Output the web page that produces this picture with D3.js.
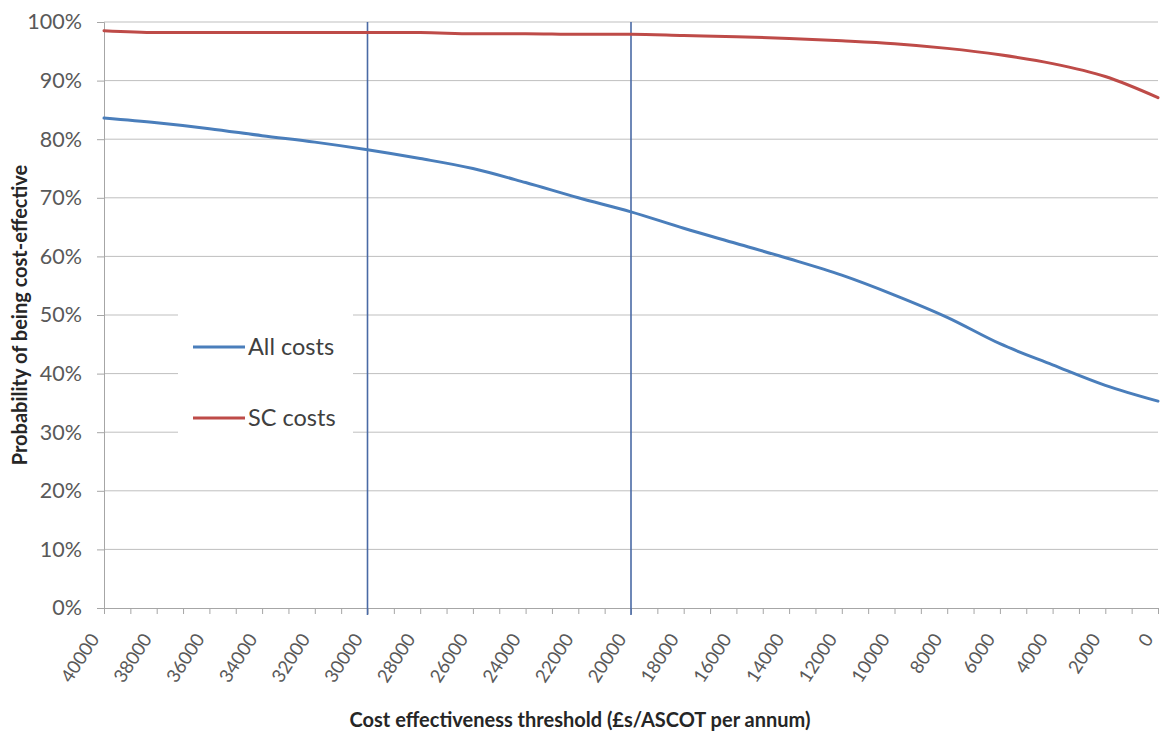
<!DOCTYPE html>
<html><head><meta charset="utf-8">
<script src="https://cdn.jsdelivr.net/npm/d3@7"></script>
<style>
body{margin:0;background:#fff;}
svg{display:block;}
</style></head>
<body>
<svg id="chart" width="1162" height="735"></svg>
<script>
// Thresholds (£s/ASCOT per annum), read every 2000
const thresholds = [40000,38000,36000,34000,32000,30000,28000,26000,24000,22000,20000,18000,16000,14000,12000,10000,8000,6000,4000,2000,0];
const allCosts = [83.6,82.8,81.8,80.6,79.5,78.2,76.7,75.0,72.6,70.0,67.6,64.8,62.2,59.6,56.8,53.4,49.6,45.1,41.5,38.0,35.3];
const scCosts  = [98.5,98.2,98.2,98.2,98.2,98.2,98.2,98.0,98.0,97.9,97.9,97.7,97.5,97.2,96.8,96.3,95.5,94.4,92.9,90.7,87.1];
const minorTicks = d3.range(40000, -1, -1000);
const tickLabels = ["40000","38000","36000","34000","32000","30000","28000","26000","24000","22000","20000","18000","16000","14000","12000","10000","8000","6000","4000","2000","0"];
const yTicks = [0,10,20,30,40,50,60,70,80,90,100];
const refLines = [30000, 20000];
const seriesNames = ["All costs","SC costs"];
const seriesColors = ["#4a7ebb","#be4b48"];

const svg = d3.select("#chart");
const mLeft = 104, mRight = 1158, mTop = 22, mBottom = 608;
const x = d3.scaleLinear().domain([40000,0]).range([mLeft,mRight]);
const y = d3.scaleLinear().domain([0,100]).range([mBottom,mTop]);
const font = "Lato, 'Open Sans', sans-serif";

// gridlines
svg.append("g").selectAll("line").data(yTicks.filter(d=>d>0)).join("line")
  .attr("x1",mLeft).attr("x2",mRight).attr("y1",d=>y(d)).attr("y2",d=>y(d))
  .attr("stroke","#bfbfbf").attr("stroke-width",1);

// y axis
const yAxis = d3.axisLeft(y).tickValues(yTicks).tickFormat(d=>d+"%").tickSize(7).tickPadding(15);
const gy = svg.append("g").attr("transform",`translate(${mLeft},0)`).call(yAxis);
gy.select(".domain").attr("stroke","#a6a6a6");
gy.selectAll(".tick line").attr("stroke","#a6a6a6");
gy.selectAll(".tick text").attr("font-family",font).attr("font-size",21.5).attr("fill","#595959");

// x axis
const xAxis = d3.axisBottom(x).tickValues(minorTicks).tickFormat("").tickSize(6).tickSizeOuter(0);
const gx = svg.append("g").attr("transform",`translate(0,${mBottom})`).call(xAxis);
gx.select(".domain").attr("stroke","#a6a6a6");
gx.selectAll(".tick line").attr("stroke","#a6a6a6");
svg.append("g").selectAll("text").data(tickLabels).join("text")
  .attr("transform",d=>`translate(${x(+d)-4},${mBottom+31}) rotate(-57)`)
  .attr("text-anchor","end").attr("font-family",font).attr("font-size",18.5).attr("fill","#595959")
  .text(d=>d);

// reference vertical lines
svg.append("g").selectAll("line").data(refLines).join("line")
  .attr("x1",d=>x(d)).attr("x2",d=>x(d)).attr("y1",y(100)).attr("y2",mBottom+7)
  .attr("stroke","#4a6aa5").attr("stroke-width",1.6);

// series lines
const line = d3.line().x((d,i)=>x(thresholds[i])).y(d=>y(d)).curve(d3.curveMonotoneX);
[allCosts, scCosts].forEach((s,i)=>{
  svg.append("path").datum(s).attr("d",line).attr("fill","none")
    .attr("stroke",seriesColors[i]).attr("stroke-width",3).attr("stroke-linecap","round");
});

// legend
const lg = svg.append("g");
lg.append("rect").attr("x",178).attr("y",300).attr("width",175).attr("height",145).attr("fill","#fff");
seriesNames.forEach((n,i)=>{
  const cy = 347 + i*71;
  lg.append("line").attr("x1",193).attr("x2",245).attr("y1",cy).attr("y2",cy)
    .attr("stroke",seriesColors[i]).attr("stroke-width",3);
  lg.append("text").attr("x",248).attr("y",cy).attr("dy","0.35em")
    .attr("font-family",font).attr("font-size",23.5).attr("fill","#404040").text(n);
});

// axis titles
svg.append("text").attr("transform",`translate(27,${(mTop+mBottom)/2}) rotate(-90)`)
  .attr("text-anchor","middle").attr("font-family",font).attr("font-weight","bold")
  .attr("font-size",20).attr("fill","#262626").text("Probability of being cost-effective");
svg.append("text").attr("x",580).attr("y",727).attr("text-anchor","middle")
  .attr("font-family",font).attr("font-weight","bold").attr("font-size",20).attr("fill","#262626")
  .text("Cost effectiveness threshold (£s/ASCOT per annum)");
</script>
</body></html>
